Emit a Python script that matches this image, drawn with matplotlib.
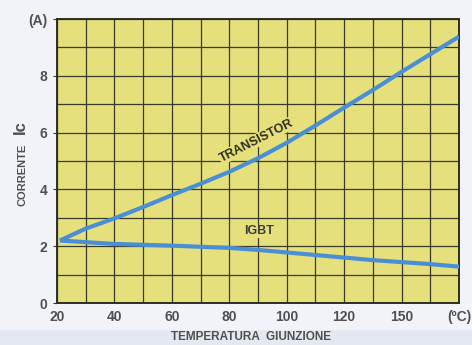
import matplotlib
matplotlib.use('Agg')
import matplotlib.pyplot as plt
from matplotlib.patches import Rectangle

# temperature (°C) and collector current (A)
transistor_t = [21, 30, 40, 50, 60, 70, 80, 90, 100, 110, 120, 130, 140, 150, 160]
transistor_i = [2.2, 2.62, 2.98, 3.38, 3.8, 4.2, 4.62, 5.1, 5.64, 6.25, 6.88, 7.5, 8.14, 8.76, 9.38]

igbt_t = [21, 40, 60, 80, 90, 100, 110, 120, 130, 140, 150, 160]
igbt_i = [2.2, 2.08, 2.02, 1.94, 1.87, 1.78, 1.69, 1.6, 1.51, 1.44, 1.37, 1.28]

x_ticks = [20, 40, 60, 80, 100, 120, 140, 160]
x_labels = ['20', '40', '60', '80', '100', '120', '150', '(ºC)']
y_ticks = [0, 2, 4, 6, 8, 10]
y_labels = ['0', '2', '4', '6', '8', '(A)']

FONT = ['Liberation Sans Narrow', 'Liberation Sans', 'DejaVu Sans']
yellow = '#e5e07c'
blue = '#4a8fd6'
ink = '#3a3a2a'
grey = '#505050'

fig = plt.figure(figsize=(4.72, 3.45), dpi=100)
fig.patch.set_facecolor('#f1f3f8')
# slightly darker band along the bottom of the scan
fig.patches.append(Rectangle((0, 0), 1, 15 / 345, transform=fig.transFigure,
                             facecolor='#e4e8f0', edgecolor='none', zorder=0))

ax = fig.add_axes([0.1208, 0.1217, 0.8517, 0.8232])
ax.set_facecolor(yellow)

ax.plot(transistor_t, transistor_i, color=blue, lw=3.0, solid_capstyle='butt', zorder=3)
ax.plot(igbt_t, igbt_i, color=blue, lw=3.0, solid_capstyle='butt', zorder=3)

ax.set_xlim(20, 160)
ax.set_ylim(0, 10)
ax.set_xticks(x_ticks)
ax.set_xticklabels(x_labels)
ax.set_yticks(y_ticks)
ax.set_yticklabels(y_labels)
ax.set_xticks(range(20, 161, 10), minor=True)
ax.set_yticks(range(0, 11), minor=True)
ax.grid(which='both', color=ink, lw=0.9, zorder=1)
ax.set_axisbelow(True)

ax.tick_params(which='both', length=0, pad=5, colors=grey)
ax.tick_params(axis='y', which='major', length=3, color=ink, pad=4)
for lab in ax.get_xticklabels() + ax.get_yticklabels():
    lab.set_family(FONT)
    lab.set_fontweight('bold')
    lab.set_fontsize(10)
for s in ax.spines.values():
    s.set_color('#2e2e22')
    s.set_linewidth(1.4)

ax.text(89.5, 5.72, 'TRANSISTOR', rotation=27, ha='center', va='center',
        family=FONT, fontweight='bold', fontsize=9, color='#2e2e22', zorder=4,
        bbox=dict(facecolor=yellow, edgecolor='none', pad=0.5))
ax.text(90.5, 2.52, 'IGBT', ha='center', va='center',
        family=FONT, fontweight='bold', fontsize=9, color='#3c3c3c', zorder=4,
        bbox=dict(facecolor=yellow, edgecolor='none', pad=0.5))

fig.text(251 / 472, 1 - 337 / 345, 'TEMPERATURA  GIUNZIONE', ha='center', va='center',
         family=FONT, fontweight='bold', fontsize=8.5, color=grey)
fig.text(22 / 472, 1 - 175 / 345, 'CORRENTE', rotation=90, ha='center', va='center',
         family=FONT, fontweight='bold', fontsize=8, color=grey)
fig.text(20 / 472, 1 - 127 / 345, 'Ic', rotation=90, ha='center', va='center',
         family=FONT, fontweight='bold', fontsize=12, color=grey)

fig.savefig('out.png', dpi=100, facecolor=fig.get_facecolor())
